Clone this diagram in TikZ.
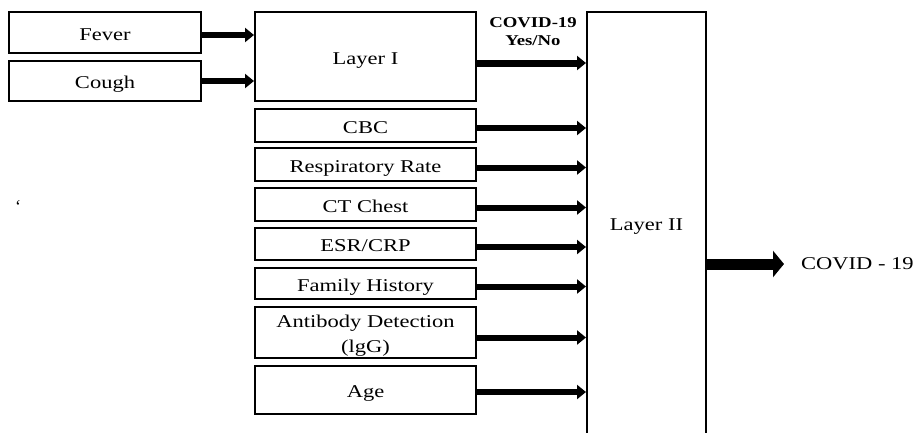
\documentclass[tikz,border=0pt]{standalone}
\usepackage{fontspec}
\usepackage{graphicx}
\setmainfont{Liberation Serif}
\usetikzlibrary{arrows.meta}
\newcommand{\hs}[1]{\scalebox{1.25}[1]{#1}}
\tikzset{
  box/.style={draw=black, line width=2pt, rectangle, inner sep=0pt,
    font=\fontsize{18}{25}\selectfont, align=center, text height=17pt, text depth=2pt},
  arr/.style={line width=6pt, -{Triangle[length=9pt,width=14pt]}},
  bigarr/.style={line width=11pt, -{Triangle[length=11pt,width=26pt]}},
  lbl/.style={font=\fontsize{18}{25}\selectfont, inner sep=0pt},
  blbl/.style={font=\fontsize{15}{18}\selectfont\bfseries, inner sep=0pt, align=center}
}
\begin{document}
\begin{tikzpicture}[x=1pt,y=-1pt]
\useasboundingbox (0,0) rectangle (913,432);
\node[box, minimum width=192pt, minimum height=41pt] (fever) at (105,32.5) {\hs{Fever}};
\node[box, minimum width=192pt, minimum height=40pt] (cough) at (105,81) {\hs{Cough}};
\node[box, minimum width=221pt, minimum height=89pt] (l1) at (365.5,56.5) {\hs{Layer I}};
\node[box, minimum width=221pt, minimum height=33pt] (cbc) at (365.5,125.5) {\hs{CBC}};
\node[box, minimum width=221pt, minimum height=33pt] (rr) at (365.5,164.5) {\hs{Respiratory Rate}};
\node[box, minimum width=221pt, minimum height=33pt] (ct) at (365.5,204.5) {\hs{CT Chest}};
\node[box, minimum width=221pt, minimum height=32pt] (esr) at (365.5,244) {\hs{ESR/CRP}};
\node[box, minimum width=221pt, minimum height=31pt] (fh) at (365.5,283.5) {\hs{Family History}};
\node[box, minimum width=221pt, minimum height=51pt, text height=, text depth=] (ab) at (365.5,332.5) {\raisebox{-2.5pt}[\height][\depth]{\hs{\begin{tabular}{@{}c@{}}Antibody Detection\\(lgG)\end{tabular}}}};
\node[box, minimum width=221pt, minimum height=48pt] (age) at (365.5,390) {\hs{Age}};
\node[box, minimum width=119pt, minimum height=424pt, text height=14pt] (l2) at (646.5,224) {\hs{Layer II}};
\node[blbl] (yn) at (533,32) {\hs{COVID-19}\\\hs{Yes/No}};
\coordinate (outend) at (784,264);
\node[lbl, anchor=west] (res) at (801,264) {\hs{COVID - 19}};
\node[lbl] (tick) at (18,206) {`};
\draw[arr] ([yshift=-2.5pt]fever.east) -- ([yshift=-2.5pt]fever.east -| l1.west);
\draw[arr] (cough.east) -- (cough.east -| l1.west);
\draw[arr, line width=7pt] ([yshift=-6.5pt]l1.east) -- ([yshift=-6.5pt]l1.east -| l2.west);
\draw[arr] ([yshift=-2.5pt]cbc.east) -- ([yshift=-2.5pt]cbc.east -| l2.west);
\draw[arr] ([yshift=-3pt]rr.east) -- ([yshift=-3pt]rr.east -| l2.west);
\draw[arr] ([yshift=-3pt]ct.east) -- ([yshift=-3pt]ct.east -| l2.west);
\draw[arr] ([yshift=-3pt]esr.east) -- ([yshift=-3pt]esr.east -| l2.west);
\draw[arr] ([yshift=-3pt]fh.east) -- ([yshift=-3pt]fh.east -| l2.west);
\draw[arr] ([yshift=-5pt]ab.east) -- ([yshift=-5pt]ab.east -| l2.west);
\draw[arr] ([yshift=-2pt]age.east) -- ([yshift=-2pt]age.east -| l2.west);
\draw[bigarr] (l2.east |- outend) -- (outend);
\end{tikzpicture}
\end{document}
